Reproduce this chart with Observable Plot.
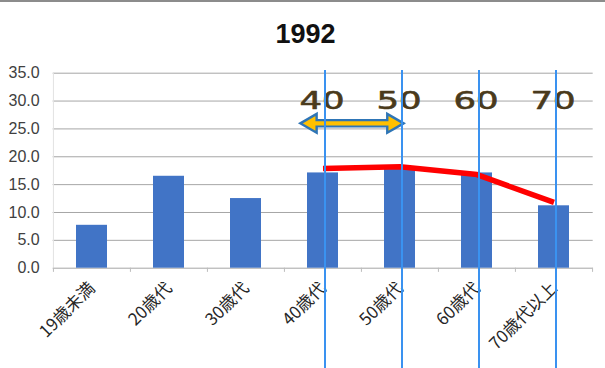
<!DOCTYPE html>
<html>
<head>
<meta charset="utf-8">
<script src="https://cdn.jsdelivr.net/npm/d3@7"></script>
<script src="https://cdn.jsdelivr.net/npm/@observablehq/plot@0.6"></script>
<style>
  html, body { margin: 0; padding: 0; background: #fff; }
  #wrap { position: relative; width: 605px; height: 368px; overflow: hidden; background: #fff; }
  #edge { position: absolute; left: 0; top: 0; width: 605px; height: 2px; background: #8c8c8c; }
  #title { position: absolute; left: 3px; top: 20.5px; width: 605px; text-align: center;
           font: bold 27px/27px "Liberation Sans", Arial, sans-serif; color: #111; }
  #chart { position: absolute; left: 0; top: 60px; }
</style>
</head>
<body>
<div id="wrap">
  <div id="edge"></div>
  <div id="title">1992</div>
  <div id="chart"></div>
</div>
<script>
// Age groups and their shares (%)
const categories = ["19歳未満", "20歳代", "30歳代", "40歳代", "50歳代", "60歳代", "70歳代以上"];
const shares = [7.7, 16.5, 12.5, 17.1, 18.0, 17.1, 11.2];
const yTicks = [0, 5, 10, 15, 20, 25, 30, 35];

// Trend line drawn over the older age groups
const trendCategories = ["40歳代", "50歳代", "60歳代", "70歳代以上"];
const trendValues = [17.9, 18.2, 16.8, 11.8];

// Age markers (vertical guides with big labels)
const ageMarks = ["40", "50", "60", "70"];

// Double arrow spanning the 40s to the 50s
const arrowFrom = "40歳代";
const arrowTo = "50歳代";
const arrowLevel = 26;

const W = 605, H = 308;
const ml = 52.7, mr = 12.3, mt = 12.7, mb = 100.3;
const step = (W - ml - mr) / categories.length;

const bars = categories.map((c, i) => ({category: c, value: shares[i]}));
const trend = trendCategories.map((c, i) => ({category: c, value: trendValues[i]}));
const markers = ageMarks.map((a, i) => ({age: a, category: trendCategories[i]}));
const arrowSpan = [{from: arrowFrom, to: arrowTo, level: arrowLevel}];
const lastCategory = [categories[categories.length - 1]];

const arrowBlue = "#2e75b6";
const arrowFill = "#ffc000";

const chart = Plot.plot({
  width: W,
  height: H,
  marginLeft: ml,
  marginRight: mr,
  marginTop: mt,
  marginBottom: mb,
  style: {background: "transparent", overflow: "visible"},
  x: {domain: categories, paddingInner: 0.6, paddingOuter: 0.3, axis: null},
  y: {domain: [0, 35], axis: null},
  marks: [
    // horizontal gridlines
    Plot.ruleY(yTicks, {y: d => d, stroke: "#a6a6a6", strokeWidth: 1}),
    // faint left edge of the plot area
    Plot.ruleX([categories[0]], {x: d => d, dx: -step / 2, stroke: "#e2e2e2", strokeWidth: 1}),
    // small category boundary ticks below the baseline
    Plot.ruleX(categories, {x: d => d, dx: -step / 2, y1: 0, y2: -0.75, stroke: "#bdbdbd"}),
    Plot.ruleX(lastCategory, {x: d => d, dx: step / 2, y1: 0, y2: -0.75, stroke: "#bdbdbd"}),
    // bars
    Plot.barY(bars, {x: "category", y: "value", fill: "#4174c6"}),
    // y tick labels
    Plot.text(yTicks, {
      y: d => d, text: d => d.toFixed(1), frameAnchor: "left", dx: -13.5,
      textAnchor: "end", fontSize: 16, fontFamily: "Liberation Sans, Arial, sans-serif", fill: "#404040"
    }),
    // rotated category labels
    Plot.text(categories, {
      x: d => d, text: d => d, frameAnchor: "bottom", dy: 21, dx: 4, rotate: -45,
      textAnchor: "end", fontSize: 17, fontFamily: "Noto Sans CJK JP, sans-serif", fill: "#262626"
    }),
    // trend line
    Plot.line(trend, {
      x: "category", y: "value", stroke: "#ff0000", strokeWidth: 5.5,
      strokeLinecap: "butt", strokeLinejoin: "round"
    }),
    // double arrow: outlined shaft, heads, then filled shaft
    Plot.arrow(arrowSpan, {
      x1: "from", x2: "to", y1: "level", y2: "level", headLength: 0,
      insetStart: -8.7, insetEnd: 10.4, stroke: arrowBlue, strokeWidth: 8.5, strokeLinecap: "butt"
    }),
    Plot.dot(arrowSpan, {
      x: "from", y: "level", dx: -11.8, symbol: "triangle", r: 7, rotate: -90,
      fill: arrowFill, stroke: arrowBlue, strokeWidth: 2.4, strokeLinejoin: "miter"
    }),
    Plot.dot(arrowSpan, {
      x: "to", y: "level", dx: -7.3, symbol: "triangle", r: 7, rotate: 90,
      fill: arrowFill, stroke: arrowBlue, strokeWidth: 2.4, strokeLinejoin: "miter"
    }),
    Plot.arrow(arrowSpan, {
      x1: "from", x2: "to", y1: "level", y2: "level", headLength: 0,
      insetStart: -8.7, insetEnd: 10.4, stroke: arrowFill, strokeWidth: 4.3, strokeLinecap: "butt"
    }),
    // big age labels
    Plot.text(markers, {
      x: "category", text: "age", frameAnchor: "top", dy: 18, dx: -1,
      fontSize: 24.5, fontFamily: "DejaVu Sans, sans-serif", fill: "#4a3a1c",
      stroke: "#4a3a1c", strokeWidth: 0.6
    }),
    // vertical age guides
    Plot.ruleX(markers, {
      x: "category", dx: 2, stroke: "#3a92f0", strokeWidth: 2,
      insetTop: -2.7, insetBottom: -(mb + 2)
    })
  ]
});

document.getElementById("chart").appendChild(chart);

// widen the big age labels to a round, extended look
d3.select(chart).selectAll("text")
  .filter(function () { return ageMarks.includes(this.textContent); })
  .each(function () {
    const t = this.getAttribute("transform");
    if (t) {
      this.setAttribute("transform", t + " scale(1.45,1)");
    } else {
      const x = +this.getAttribute("x") || 0, y = +this.getAttribute("y") || 0;
      this.removeAttribute("x"); this.removeAttribute("y");
      this.setAttribute("transform", `translate(${x},${y}) scale(1.45,1)`);
    }
  });
</script>
</body>
</html>
